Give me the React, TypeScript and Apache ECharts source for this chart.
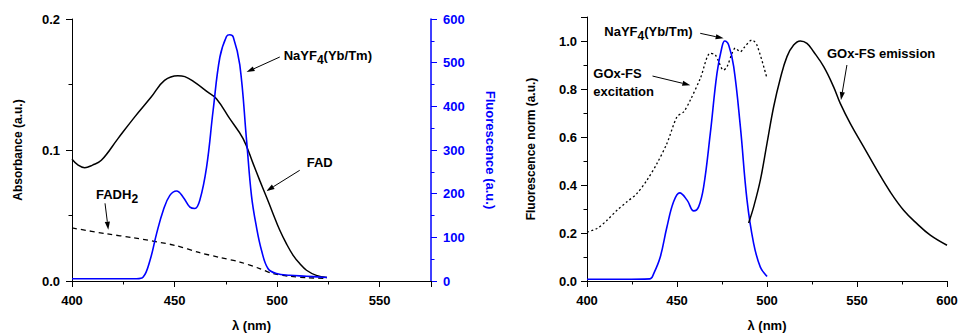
import React, { useEffect, useRef } from 'react';
import * as echarts from 'echarts';

// ---- Left panel: absorbance (left axis) ----
const fadWl = [400, 403, 406.2, 410, 414.3, 422.4, 430.5, 438.6, 445.1, 451.6, 455, 459.7, 466.2, 470.4, 476.9, 483.4, 488.3, 491.5, 494.8, 498, 501.3, 504.5, 507.8, 511, 514.3, 519.1, 524.3];
const fadAbs = [0.093, 0.0885, 0.0865, 0.0885, 0.0921, 0.1087, 0.1251, 0.1404, 0.1531, 0.1567, 0.156, 0.1518, 0.1442, 0.1392, 0.1239, 0.1087, 0.0896, 0.0768, 0.0641, 0.0514, 0.0387, 0.0285, 0.0196, 0.0133, 0.0082, 0.0043, 0.0026];

const fadh2Wl = [400, 416.9, 429.9, 450.2, 462.3, 472, 481.8, 491.5, 498, 506.1, 515, 524.3];
const fadh2Abs = [0.0405, 0.036, 0.033, 0.0272, 0.0216, 0.018, 0.0145, 0.0095, 0.0056, 0.0036, 0.0025, 0.002];

// ---- Left panel: NaYF4(Yb/Tm) fluorescence (right axis, a.u.) ----
const ucWlA = [400, 420, 431.5, 434.7, 438, 441.2, 444.5, 447.7, 451, 454.2, 457.5, 459.9, 462.3, 465.6, 468.8, 472.1, 475.3, 476.9, 478.6, 481.8, 485.1, 487.5, 489.9, 492.4, 495.6, 499.7, 506.1, 514.3, 524.3];
const ucFluo = [5, 5, 5, 9, 47, 108, 162, 196, 206, 192, 169, 166, 185, 261, 391, 513, 560, 564, 559, 495, 322, 195, 124, 70, 28, 17, 13, 11, 8];

// ---- Right panel: normalized fluorescence ----
const excWl = [400, 405.6, 411.1, 416.7, 422.2, 427.8, 433.3, 438.9, 444.4, 450, 453.7, 457.4, 463, 468.5, 471.3, 475.9, 477.8, 480.6, 482.4, 485.2, 487, 491.7, 494.4, 500];
const excNorm = [0.204, 0.219, 0.253, 0.295, 0.33, 0.365, 0.42, 0.49, 0.573, 0.684, 0.705, 0.754, 0.845, 0.949, 0.942, 0.879, 0.893, 0.949, 0.97, 0.955, 0.97, 1.004, 0.983, 0.844];

const ucWlB = [400, 420, 435, 437, 440.7, 444.4, 448.1, 451.5, 455.6, 459.3, 462, 464.8, 468.5, 472.2, 475, 476.5, 478.7, 481.5, 485.2, 488.9, 492.6, 496.3, 500];
const ucNorm = [0.007, 0.007, 0.009, 0.03, 0.1, 0.225, 0.33, 0.367, 0.337, 0.292, 0.309, 0.392, 0.615, 0.865, 0.976, 1.0, 0.983, 0.893, 0.643, 0.337, 0.156, 0.058, 0.019];

const emWl = [489.8, 492.6, 496.3, 500, 503.7, 507.4, 511.1, 514.8, 518.5, 522.2, 525.9, 531.5, 537, 540.7, 546.3, 553.7, 561.1, 568.5, 575.9, 583.3, 590.7, 600];
const emNorm = [0.242, 0.309, 0.42, 0.573, 0.726, 0.844, 0.935, 0.983, 1.0, 0.99, 0.955, 0.893, 0.809, 0.74, 0.656, 0.559, 0.462, 0.371, 0.295, 0.239, 0.191, 0.149];

const FONT = '"Liberation Sans", Arial, Helvetica, sans-serif';
const BLUE = '#0000ff';

const zip = (xs: number[], ys: number[]) => xs.map((x, i) => [x, ys[i]]);
const isMult = (v: number, m: number) => Math.abs(v / m - Math.round(v / m)) < 1e-6;

export default function App() {
  const ref = useRef<HTMLDivElement>(null);
  useEffect(() => {
    const chart = echarts.init(ref.current!, null, { renderer: 'svg' });
    const txt = (color = '#000', size = 13) => ({ fontFamily: FONT, fontWeight: 'bold', fontSize: size, color });
    const ticks = (color: string) => ({
      axisTick: { show: true, length: 6, lineStyle: { color } },
      minorTick: { show: true, splitNumber: 2, length: 3.5, lineStyle: { color } },
      splitLine: { show: false },
      minorSplitLine: { show: false },
    });
    const xAxisBase = (grid: number, max: number, lastLabel: number) => ({
      gridIndex: grid, type: 'value', min: 400, max, interval: 50,
      axisLine: { show: true, onZero: false, lineStyle: { color: '#000', width: 1 } },
      ...ticks('#000'),
      axisLabel: { ...txt(), margin: 13, formatter: (v: number) => (isMult(v, 50) && v <= lastLabel ? String(v) : '') },
      name: 'λ (nm)', nameLocation: 'middle', nameGap: 38, nameTextStyle: txt('#000', 13),
    });
    const option: any = {
      animation: false,
      grid: [
        { left: 72, top: 19, width: 359, height: 262, containLabel: false, outerBoundsMode: 'none' },
        { left: 587, top: 17, width: 360, height: 264, containLabel: false, outerBoundsMode: 'none' },
      ],
      xAxis: [xAxisBase(0, 575, 550), xAxisBase(1, 600, 600)],
      yAxis: [
        {
          gridIndex: 0, type: 'value', position: 'left', min: 0, max: 0.2, interval: 0.1,
          axisLine: { show: true, lineStyle: { color: '#000' } },
          ...ticks('#000'),
          axisLabel: { ...txt(), margin: 12, formatter: (v: number) => v.toFixed(1) },
          name: 'Absorbance (a.u.)', nameLocation: 'middle', nameGap: 48, nameRotate: 90, nameTextStyle: txt('#000', 12),
        },
        {
          gridIndex: 0, type: 'value', position: 'right', min: 0, max: 600, interval: 100,
          axisLine: { show: true, lineStyle: { color: BLUE, width: 1.5 } },
          ...ticks(BLUE),
          axisLabel: { ...txt(BLUE), margin: 12, formatter: (v: number) => String(v) },
          name: 'Fluorescence (a.u.)', nameLocation: 'middle', nameGap: 53, nameRotate: -90, nameTextStyle: txt(BLUE, 13),
        },
        {
          gridIndex: 1, type: 'value', position: 'left', min: 0, max: 1.1, interval: 0.2,
          axisLine: { show: true, lineStyle: { color: '#000' } },
          ...ticks('#000'),
          axisLabel: { ...txt(), margin: 10, formatter: (v: number) => (isMult(v, 0.2) ? v.toFixed(1) : '') },
          name: 'Fluorescence norm (a.u.)', nameLocation: 'middle', nameGap: 50, nameRotate: 90, nameTextStyle: txt('#000', 12),
        },
      ],
      series: [
        { type: 'line', name: 'FAD', xAxisIndex: 0, yAxisIndex: 0, data: zip(fadWl, fadAbs), showSymbol: false, smooth: 0.4, lineStyle: { color: '#000', width: 1.5 } },
        { type: 'line', name: 'FADH2', xAxisIndex: 0, yAxisIndex: 0, data: zip(fadh2Wl, fadh2Abs), showSymbol: false, smooth: 0.3, lineStyle: { color: '#000', width: 1.3, type: [5, 4] } },
        { type: 'line', name: 'NaYF4 A', xAxisIndex: 0, yAxisIndex: 1, data: zip(ucWlA, ucFluo), showSymbol: false, smooth: 0.4, lineStyle: { color: BLUE, width: 1.6 } },
        { type: 'line', name: 'GOx-FS excitation', xAxisIndex: 1, yAxisIndex: 2, data: zip(excWl, excNorm), showSymbol: false, smooth: 0.3, lineStyle: { color: '#000', width: 1.3, type: [2, 2.5] } },
        { type: 'line', name: 'NaYF4 B', xAxisIndex: 1, yAxisIndex: 2, data: zip(ucWlB, ucNorm), showSymbol: false, smooth: 0.4, lineStyle: { color: BLUE, width: 1.6 } },
        { type: 'line', name: 'GOx-FS emission', xAxisIndex: 1, yAxisIndex: 2, data: zip(emWl, emNorm), showSymbol: false, smooth: 0.4, lineStyle: { color: '#000', width: 1.5 } },
      ],
    };
    chart.setOption(option);

    const P = (g: number, p: number[]) => chart.convertToPixel({ gridIndex: g }, p) as number[];
    const richBase = { fontFamily: FONT, fontWeight: 'bold', fill: '#000' };
    const rich = {
      a: { ...richBase, fontSize: 13, lineHeight: 16, verticalAlign: 'middle' },
      s: { ...richBase, fontSize: 12, lineHeight: 21, verticalAlign: 'bottom' },
    };
    const label = (g: number, at: number[], text: string) => {
      const [x, y] = P(g, at);
      return { type: 'text', x, y, style: { text, rich, fontFamily: FONT, fontWeight: 'bold', fontSize: 13, fill: '#000', verticalAlign: 'middle', align: 'left' } };
    };
    const arrow = (g: number, from: number[], to: number[]) => {
      const [x1, y1] = P(g, from);
      const [x2, y2] = P(g, to);
      const dx = x2 - x1, dy = y2 - y1;
      const len = Math.hypot(dx, dy);
      const ux = dx / len, uy = dy / len;
      const hl = 8, hw = 2.6;
      const bx = x2 - ux * hl, by = y2 - uy * hl;
      return [
        { type: 'line', shape: { x1, y1, x2: bx, y2: by }, style: { stroke: '#000', lineWidth: 1 } },
        { type: 'polygon', shape: { points: [[x2, y2], [bx - uy * hw, by + ux * hw], [bx + uy * hw, by - ux * hw]] }, style: { fill: '#000' } },
      ];
    };
    const graphic = [
      label(0, [503.2, 0.172], '{a|NaYF}{s|4}{a|(Yb/Tm)}'),
      ...arrow(0, [501.3, 0.171], [485.1, 0.1595]),
      label(0, [514.4, 0.0906], '{a|FAD}'),
      ...arrow(0, [511, 0.0845], [494.8, 0.0687]),
      label(0, [411.7, 0.066], '{a|FADH}{s|2}'),
      ...arrow(0, [416.1, 0.0593], [417.7, 0.0392]),
      label(1, [409.6, 1.04], '{a|NaYF}{s|4}{a|(Yb/Tm)}'),
      ...arrow(1, [462.9, 1.032], [475.9, 1.011]),
      label(1, [403.5, 0.8665], '{a|GOx-FS}'),
      label(1, [403.5, 0.791], '{a|excitation}'),
      ...arrow(1, [436.4, 0.854], [457.4, 0.816]),
      label(1, [533.3, 0.946], '{a|GOx-FS emission}'),
      ...arrow(1, [544.4, 0.9], [541.1, 0.754]),
    ];
    chart.setOption({ graphic });
    return () => chart.dispose();
  }, []);
  return <div ref={ref} style={{ position: 'absolute', left: 0, top: 0, width: 958, height: 334, background: '#fff' }} />;
}
